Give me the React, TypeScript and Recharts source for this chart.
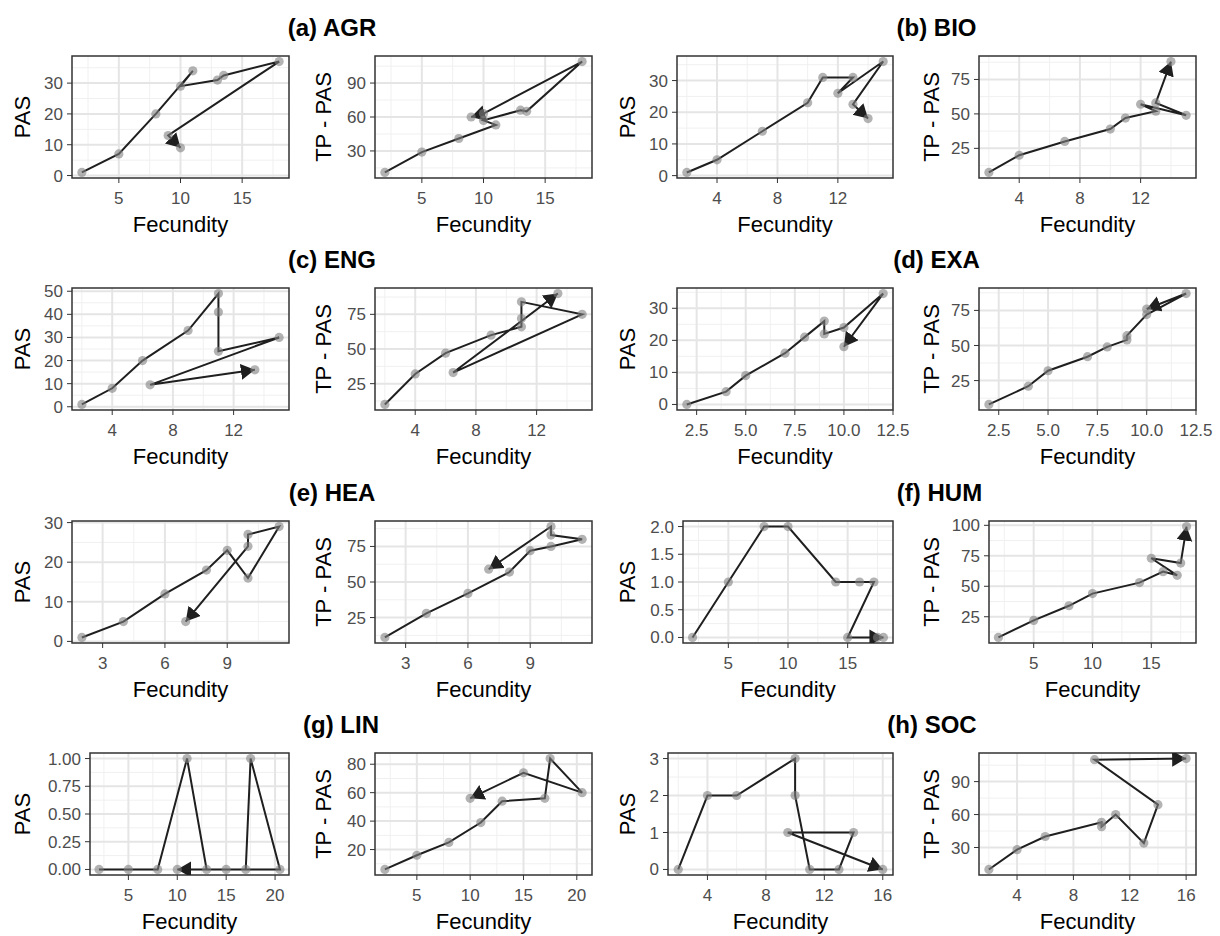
import React from 'react';
import { LineChart, Line, XAxis, YAxis, CartesianGrid, ReferenceArea } from 'recharts';

// (a) AGR
const AGR_FECUNDITY = [2, 5, 8, 11, 10, 13, 13.5, 18, 9, 10];
const AGR_PAS = [1, 7, 20, 34, 29, 31, 32.5, 37, 13, 9];
const AGR_FECUNDITY_TP = [2, 5, 8, 11, 10, 13, 13.5, 18, 10, 9];
const AGR_TP_PAS = [11, 29, 41, 53, 57, 66, 65, 109, 63, 60];

// (b) BIO
const BIO_FECUNDITY = [2, 4, 7, 10, 11, 13, 12, 15, 13, 14];
const BIO_PAS = [1, 5, 14, 23, 31, 31, 26, 36, 22.5, 18];
const BIO_TP_PAS = [7.5, 20, 30, 39, 47, 52, 57, 49, 58, 88];

// (c) ENG
const ENG_FECUNDITY = [2, 4, 6, 9, 11, 11, 11, 15, 6.5, 13.4];
const ENG_PAS = [1, 8, 20, 33, 49, 41, 24, 30, 9.5, 16];
const ENG_TP_PAS = [10, 32, 47, 60, 66, 72, 84, 75, 33, 90];

// (d) EXA
const EXA_FECUNDITY = [2, 4, 5, 7, 8, 9, 9, 10, 12, 10];
const EXA_PAS = [0, 4, 9, 16, 21, 26, 22, 24, 34.6, 18];
const EXA_TP_PAS = [8, 21, 32, 42, 49, 54, 57, 72, 87, 76];

// (e) HEA
const HEA_FECUNDITY = [2, 4, 6, 8, 9, 10, 11.5, 10, 10, 7];
const HEA_PAS = [1, 5, 12, 18, 23, 16, 29, 27, 24, 5];
const HEA_TP_PAS = [11, 28, 42, 57, 72, 75, 80, 83, 89, 59];

// (f) HUM
const HUM_FECUNDITY = [2, 5, 8, 10, 14, 16, 17.2, 15, 17.5, 18];
const HUM_PAS = [0, 1, 2, 2, 1, 1, 1, 0, 0, 0];
const HUM_TP_PAS = [8, 22, 34, 44, 53, 62, 59, 73, 69, 99];

// (g) LIN
const LIN_FECUNDITY = [2, 5, 8, 11, 13, 17, 17.5, 20.5, 15, 10];
const LIN_PAS = [0, 0, 0, 1, 0, 0, 1, 0, 0, 0];
const LIN_TP_PAS = [6, 16, 25, 39, 54, 56, 84, 60, 74, 56];

// (h) SOC
const SOC_FECUNDITY = [2, 4, 6, 10, 10, 11, 13, 14, 9.5, 16];
const SOC_PAS = [0, 2, 2, 3, 2, 0, 0, 1, 1, 0];
const SOC_TP_PAS = [10, 28, 40, 53, 49, 60, 34, 69, 110, 111];

// tick labels
const AGR_X_TICKS = [5, 10, 15];
const AGR_PAS_TICKS = [0, 10, 20, 30];
const AGR_TP_TICKS = [30, 60, 90];
const BIO_X_TICKS = [4, 8, 12];
const BIO_PAS_TICKS = [0, 10, 20, 30];
const BIO_TP_TICKS = [25, 50, 75];
const ENG_X_TICKS = [4, 8, 12];
const ENG_PAS_TICKS = [0, 10, 20, 30, 40, 50];
const ENG_TP_TICKS = [25, 50, 75];
const EXA_X_TICKS = [2.5, 5, 7.5, 10, 12.5];
const EXA_PAS_TICKS = [0, 10, 20, 30];
const EXA_TP_TICKS = [25, 50, 75];
const HEA_X_TICKS = [3, 6, 9];
const HEA_PAS_TICKS = [0, 10, 20, 30];
const HEA_TP_TICKS = [25, 50, 75];
const HUM_X_TICKS = [5, 10, 15];
const HUM_PAS_TICKS = [0, 0.5, 1, 1.5, 2];
const HUM_TP_TICKS = [25, 50, 75, 100];
const LIN_X_TICKS = [5, 10, 15, 20];
const LIN_PAS_TICKS = [0, 0.25, 0.5, 0.75, 1];
const LIN_TP_TICKS = [20, 40, 60, 80];
const SOC_X_TICKS = [4, 8, 12, 16];
const SOC_PAS_TICKS = [0, 1, 2, 3];
const SOC_TP_TICKS = [30, 60, 90];

const FONT = '"Liberation Sans", Arial, Helvetica, sans-serif';
const ROW_TOP = [0, 232, 465, 697];

type Box = { left: number; axisW: number; right: number };
type Group = {
  title: string;
  row: number;
  x: number[];
  xTp?: number[];
  pas: number[];
  tp: number[];
  xTicks: number[];
  pasTicks: number[];
  tpTicks: number[];
  xDigits: number;
  pasDigits: number;
  boxes: [Box, Box];
};

const groups: Group[] = [
  { title: '(a) AGR', row: 0, x: AGR_FECUNDITY, xTp: AGR_FECUNDITY_TP, pas: AGR_PAS, tp: AGR_TP_PAS, xTicks: AGR_X_TICKS, pasTicks: AGR_PAS_TICKS, tpTicks: AGR_TP_TICKS, xDigits: 0, pasDigits: 0,
    boxes: [{ left: 0, axisW: 72, right: 289 }, { left: 301, axisW: 74, right: 592 }] },
  { title: '(b) BIO', row: 0, x: BIO_FECUNDITY, pas: BIO_PAS, tp: BIO_TP_PAS, xTicks: BIO_X_TICKS, pasTicks: BIO_PAS_TICKS, tpTicks: BIO_TP_TICKS, xDigits: 0, pasDigits: 0,
    boxes: [{ left: 605, axisW: 72, right: 893 }, { left: 909, axisW: 70, right: 1196 }] },
  { title: '(c) ENG', row: 1, x: ENG_FECUNDITY, pas: ENG_PAS, tp: ENG_TP_PAS, xTicks: ENG_X_TICKS, pasTicks: ENG_PAS_TICKS, tpTicks: ENG_TP_TICKS, xDigits: 0, pasDigits: 0,
    boxes: [{ left: 0, axisW: 72, right: 289 }, { left: 301, axisW: 74, right: 592 }] },
  { title: '(d) EXA', row: 1, x: EXA_FECUNDITY, pas: EXA_PAS, tp: EXA_TP_PAS, xTicks: EXA_X_TICKS, pasTicks: EXA_PAS_TICKS, tpTicks: EXA_TP_TICKS, xDigits: 1, pasDigits: 0,
    boxes: [{ left: 605, axisW: 72, right: 893 }, { left: 909, axisW: 70, right: 1196 }] },
  { title: '(e) HEA', row: 2, x: HEA_FECUNDITY, pas: HEA_PAS, tp: HEA_TP_PAS, xTicks: HEA_X_TICKS, pasTicks: HEA_PAS_TICKS, tpTicks: HEA_TP_TICKS, xDigits: 0, pasDigits: 0,
    boxes: [{ left: 0, axisW: 72, right: 289 }, { left: 301, axisW: 74, right: 592 }] },
  { title: '(f) HUM', row: 2, x: HUM_FECUNDITY, pas: HUM_PAS, tp: HUM_TP_PAS, xTicks: HUM_X_TICKS, pasTicks: HUM_PAS_TICKS, tpTicks: HUM_TP_TICKS, xDigits: 0, pasDigits: 1,
    boxes: [{ left: 605, axisW: 78, right: 893 }, { left: 909, axisW: 80, right: 1196 }] },
  { title: '(g) LIN', row: 3, x: LIN_FECUNDITY, pas: LIN_PAS, tp: LIN_TP_PAS, xTicks: LIN_X_TICKS, pasTicks: LIN_PAS_TICKS, tpTicks: LIN_TP_TICKS, xDigits: 0, pasDigits: 2,
    boxes: [{ left: 0, axisW: 90, right: 289 }, { left: 301, axisW: 74, right: 592 }] },
  { title: '(h) SOC', row: 3, x: SOC_FECUNDITY, pas: SOC_PAS, tp: SOC_TP_PAS, xTicks: SOC_X_TICKS, pasTicks: SOC_PAS_TICKS, tpTicks: SOC_TP_TICKS, xDigits: 0, pasDigits: 0,
    boxes: [{ left: 605, axisW: 63, right: 893 }, { left: 909, axisW: 70, right: 1196 }] },
];

// ggplot-style 5% expansion of the data range
const expand = (v: number[]): [number, number] => {
  const lo = Math.min(...v);
  const hi = Math.max(...v);
  const p = (hi - lo) * 0.05;
  return [lo - p, hi + p];
};

// minor grid lines half way between breaks
const minorBreaks = (ticks: number[], [lo, hi]: [number, number]) => {
  const step = ticks[1] - ticks[0];
  const out: number[] = [];
  for (let v = ticks[0] - step * 1.5; v <= hi; v += step) {
    if (v >= lo) out.push(v);
  }
  return out;
};

const tickStyle = { fill: '#4D4D4D', fontSize: 17, fontFamily: FONT };
const titleStyle = { fill: '#000', fontSize: 22, fontFamily: FONT };
const RIGHT_PAD = 26;

function Panel({ x, y, xTicks, yTicks, xDigits, yDigits, yLabel, box, top }: {
  x: number[]; y: number[]; xTicks: number[]; yTicks: number[]; xDigits: number; yDigits: number; yLabel: string; box: Box; top: number;
}) {
  const data = x.map((v, i) => ({ x: v, y: y[i] }));
  const xd = expand(x);
  const yd = expand(y);
  const width = box.right - box.left + RIGHT_PAD;
  return (
    <div style={{ position: 'absolute', left: box.left, top }}>
      <LineChart width={width} height={239} data={data} margin={{ top: 56, right: RIGHT_PAD, bottom: 0, left: 0 }}>
        <CartesianGrid verticalValues={minorBreaks(xTicks, xd)} horizontalValues={minorBreaks(yTicks, yd)} stroke="#F0F0F0" strokeWidth={1} />
        <CartesianGrid verticalValues={xTicks} horizontalValues={yTicks} stroke="#E5E5E5" strokeWidth={2} />
        <XAxis
          dataKey="x"
          type="number"
          domain={xd}
          ticks={xTicks}
          interval={0}
          allowDataOverflow
          height={61}
          axisLine={false}
          tickLine={{ stroke: '#333' }}
          tickSize={5}
          tickMargin={9}
          tick={tickStyle}
          tickFormatter={(v: number) => v.toFixed(xDigits)}
          label={{ value: 'Fecundity', position: 'insideBottom', offset: 7, style: titleStyle }}
        />
        <YAxis
          type="number"
          domain={yd}
          ticks={yTicks}
          interval={0}
          allowDataOverflow
          width={box.axisW}
          axisLine={false}
          tickLine={{ stroke: '#333' }}
          tickSize={5}
          tickMargin={4}
          tick={tickStyle}
          tickFormatter={(v: number) => v.toFixed(yDigits)}
          label={{ value: yLabel, angle: -90, position: 'insideLeft', offset: 22, style: { ...titleStyle, textAnchor: 'middle' } }}
        />
        <ReferenceArea x1={xd[0]} x2={xd[1]} y1={yd[0]} y2={yd[1]} fill="none" stroke="#333" strokeWidth={1.5} />
        <Line
          dataKey="y"
          type="linear"
          stroke="#1f1f1f"
          strokeWidth={2}
          markerEnd="url(#arrowHead)"
          dot={{ r: 4.6, fill: '#808080', fillOpacity: 0.6, stroke: 'none' }}
          activeDot={false}
          isAnimationActive={false}
        />
      </LineChart>
    </div>
  );
}

export default function App() {
  return (
    <div style={{ position: 'relative', width: 1220, height: 936, overflow: 'hidden', background: '#fff', fontFamily: FONT }}>
      <style>{'body{margin:0}'}</style>
      <svg width={0} height={0} style={{ position: 'absolute' }}>
        <defs>
          <marker id="arrowHead" viewBox="0 0 15 17" refX={14} refY={8} markerWidth={15} markerHeight={17} markerUnits="userSpaceOnUse" orient="auto">
            <path d="M0,0 L14,8 L0,16 Z" fill="#1f1f1f" />
          </marker>
        </defs>
      </svg>
      {groups.map((g) => {
        const top = ROW_TOP[g.row];
        const [pb, tb] = g.boxes;
        const cx = (pb.left + pb.axisW + tb.right) / 2;
        return (
          <React.Fragment key={g.title}>
            <div style={{ position: 'absolute', left: cx - 100, width: 200, top: top + 15, lineHeight: '26px', fontSize: 24, fontWeight: 'bold', textAlign: 'center', color: '#000' }}>
              {g.title}
            </div>
            <Panel x={g.x} y={g.pas} xTicks={g.xTicks} yTicks={g.pasTicks} xDigits={g.xDigits} yDigits={g.pasDigits} yLabel="PAS" box={pb} top={top} />
            <Panel x={g.xTp ?? g.x} y={g.tp} xTicks={g.xTicks} yTicks={g.tpTicks} xDigits={g.xDigits} yDigits={0} yLabel="TP - PAS" box={tb} top={top} />
          </React.Fragment>
        );
      })}
    </div>
  );
}
